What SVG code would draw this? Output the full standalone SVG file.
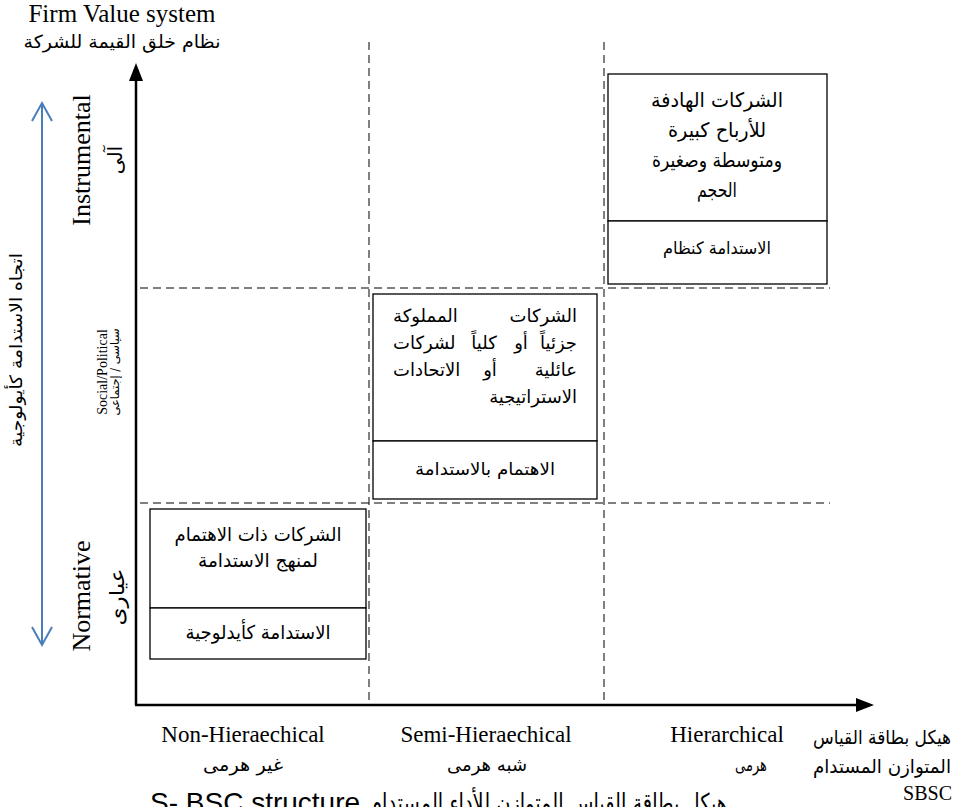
<svg xmlns="http://www.w3.org/2000/svg" width="962" height="807" viewBox="0 0 962 807">
<style>
.en{font-family:"Liberation Serif","Times New Roman",serif;fill:#000}
.ar{font-family:"DejaVu Sans","Liberation Sans",sans-serif;fill:#000}
.sans{font-family:"Liberation Sans",Arial,sans-serif;fill:#000}
.box{fill:#fff;stroke:#000;stroke-width:1.3}
.dash{stroke:#000;stroke-width:1;stroke-dasharray:8 5;fill:none}
.axis{stroke:#000;stroke-width:2.5;fill:none}
</style>
<rect width="962" height="807" fill="#fff"/>

<g id="grid">
<line class="dash" x1="369" y1="42" x2="369" y2="703"/>
<line class="dash" x1="604" y1="42" x2="604" y2="703"/>
<line class="dash" x1="140" y1="288" x2="830" y2="288"/>
<line class="dash" x1="140" y1="503" x2="830" y2="503"/>
</g>

<g id="connectors">
<line class="axis" x1="136" y1="705" x2="136" y2="78"/>
<polygon points="136,63 129,81 143,81" fill="#000"/>
<line class="axis" x1="135" y1="705" x2="858" y2="705"/>
<polygon points="874,705 856,698 856,712" fill="#000"/>
<line x1="42" y1="103" x2="42" y2="645" stroke="#4A7EBB" stroke-width="2"/>
<polyline points="32,121 42,103 52,121" fill="none" stroke="#4A7EBB" stroke-width="2"/>
<polyline points="32,627 42,645 52,627" fill="none" stroke="#4A7EBB" stroke-width="2"/>
</g>

<g id="title">
<text class="en" x="122" y="22" font-size="25" text-anchor="middle">Firm Value system</text>
<text class="ar" x="122" y="48" font-size="18" text-anchor="middle" textLength="197" lengthAdjust="spacingAndGlyphs">نظام خلق القيمة للشركة</text>
</g>

<g id="y-labels">
<text class="ar" transform="translate(22,350) rotate(-90)" font-size="17" text-anchor="middle" textLength="194" lengthAdjust="spacingAndGlyphs">اتجاه الاستدامة كأيولوجية</text>
<text class="en" transform="translate(90,160) rotate(-90)" font-size="26" text-anchor="middle">Instrumental</text>
<text class="ar" transform="translate(122,160) rotate(-90)" font-size="20" text-anchor="middle">آلى</text>
<text class="en" transform="translate(107,372) rotate(-90)" font-size="14" text-anchor="middle">Social/Political</text>
<text class="ar" transform="translate(119,372) rotate(-90)" font-size="12" text-anchor="middle" textLength="87" lengthAdjust="spacingAndGlyphs">سياسى / إجتماعى</text>
<text class="en" transform="translate(90,596) rotate(-90)" font-size="26" text-anchor="middle">Normative</text>
<text class="ar" transform="translate(124,597) rotate(-90)" font-size="20" text-anchor="middle" textLength="57" lengthAdjust="spacingAndGlyphs">عيارى</text>
</g>

<g id="node-hierarchical">
<rect class="box" x="608" y="74" width="219" height="147"/>
<rect class="box" x="608" y="221" width="219" height="63"/>
<text class="ar" x="717" y="107" font-size="20" text-anchor="middle" textLength="132" lengthAdjust="spacingAndGlyphs">الشركات الهادفة</text>
<text class="ar" x="717" y="137" font-size="20" text-anchor="middle" textLength="98" lengthAdjust="spacingAndGlyphs">للأرباح كبيرة</text>
<text class="ar" x="717" y="167" font-size="20" text-anchor="middle" textLength="130" lengthAdjust="spacingAndGlyphs">ومتوسطة وصغيرة</text>
<text class="ar" x="717" y="197" font-size="20" text-anchor="middle" textLength="40" lengthAdjust="spacingAndGlyphs">الحجم</text>
<text class="ar" x="717" y="254" font-size="17" text-anchor="middle" textLength="108" lengthAdjust="spacingAndGlyphs">الاستدامة كنظام</text>
</g>

<g id="node-semi">
<rect class="box" x="373" y="294" width="224" height="147"/>
<rect class="box" x="373" y="441" width="224" height="58"/>
<g class="ar" font-size="18">
<text x="577" y="322" text-anchor="end">الشركات</text>
<text x="393" y="322">المملوكة</text>
<text x="577" y="349" text-anchor="end">جزئياً</text>
<text x="521" y="349" text-anchor="middle">أو</text>
<text x="484" y="349" text-anchor="middle">كلياً</text>
<text x="393" y="349">لشركات</text>
<text x="577" y="376" text-anchor="end">عائلية</text>
<text x="490" y="376" text-anchor="middle">أو</text>
<text x="393" y="376">الاتحادات</text>
<text x="577" y="403" text-anchor="end">الاستراتيجية</text>
</g>
<text class="ar" x="485" y="475" font-size="17" text-anchor="middle" textLength="140" lengthAdjust="spacingAndGlyphs">الاهتمام بالاستدامة</text>
</g>

<g id="node-non">
<rect class="box" x="150" y="509" width="216" height="99"/>
<rect class="box" x="150" y="608" width="216" height="51"/>
<text class="ar" x="258" y="541" font-size="19" text-anchor="middle" textLength="167" lengthAdjust="spacingAndGlyphs">الشركات ذات الاهتمام</text>
<text class="ar" x="258" y="567" font-size="19" text-anchor="middle" textLength="120" lengthAdjust="spacingAndGlyphs">لمنهج الاستدامة</text>
<text class="ar" x="258" y="639" font-size="19" text-anchor="middle" textLength="145" lengthAdjust="spacingAndGlyphs">الاستدامة كأيدلوجية</text>
</g>

<g id="x-labels">
<text class="en" x="243" y="742" font-size="23" text-anchor="middle">Non-Hieraechical</text>
<text class="ar" x="243" y="771" font-size="18" text-anchor="middle" textLength="80" lengthAdjust="spacingAndGlyphs">غير هرمى</text>
<text class="en" x="486" y="742" font-size="23" text-anchor="middle">Semi-Hieraechical</text>
<text class="ar" x="487" y="771" font-size="18" text-anchor="middle" textLength="80" lengthAdjust="spacingAndGlyphs">شبه هرمى</text>
<text class="en" x="727" y="742" font-size="23" text-anchor="middle">Hierarchical</text>
<text class="ar" x="751" y="771" font-size="18" text-anchor="middle" textLength="32" lengthAdjust="spacingAndGlyphs">هرمى</text>
<text class="ar" x="951" y="744" font-size="19" text-anchor="end" textLength="138" lengthAdjust="spacingAndGlyphs">هيكل بطاقة القياس</text>
<text class="ar" x="951" y="773" font-size="19" text-anchor="end" textLength="138" lengthAdjust="spacingAndGlyphs">المتوازن المستدام</text>
<text class="en" x="952" y="800" font-size="20" text-anchor="end">SBSC</text>
</g>

<g id="caption">
<text class="sans" x="150" y="812" font-size="28">S- BSC structure</text>
<text class="ar" x="727" y="812" font-size="26" text-anchor="end" textLength="357" lengthAdjust="spacingAndGlyphs">هيكل بطاقة القياس المتوازن للأداء المستدام</text>
</g>
</svg>
